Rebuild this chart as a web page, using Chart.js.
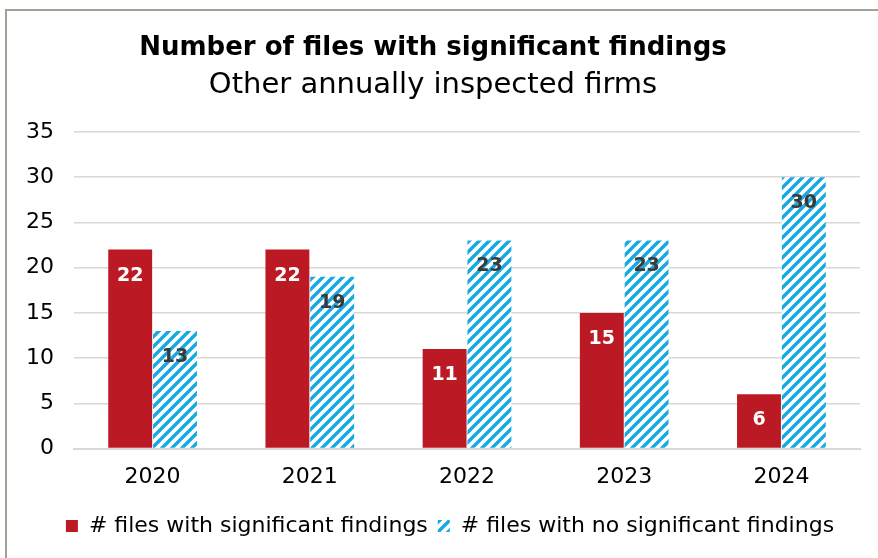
<!DOCTYPE html>
<html>
<head>
<meta charset="utf-8">
<script src="https://cdn.jsdelivr.net/npm/chart.js@4"></script>
<style>
  html, body { margin: 0; padding: 0; background: #fff; }
  #frame { position: absolute; left: 5px; top: 9px; width: 900px; height: 600px;
           border-left: 2px solid #a79e96; border-top: 2px solid #a79e96; }
  #wrap { position: absolute; left: 0; top: 0; width: 878px; height: 558px; }
</style>
</head>
<body>
<div id="frame"></div>
<div id="wrap"><canvas id="FindingsChart"></canvas></div>
<script>
const years = ["2020", "2021", "2022", "2023", "2024"];
const withFindings = [22, 22, 11, 15, 6];
const withoutFindings = [13, 19, 23, 23, 30];
const seriesNames = ["# files with significant findings", "# files with no significant findings"];

const FONT = "'DejaVu Sans', sans-serif";

function makeHatch() {
    let c = document.createElement('canvas');
    c.width = 10; c.height = 10;
    let g = c.getContext('2d');
    g.fillStyle = '#ffffff';
    g.fillRect(0, 0, 10, 10);
    g.strokeStyle = '#17a9e1';
    g.lineWidth = 3.4;
    g.beginPath();
    g.moveTo(-1, 11); g.lineTo(11, -1);
    g.moveTo(-1, 1); g.lineTo(1, -1);
    g.moveTo(9, 11); g.lineTo(11, 9);
    g.stroke();
    return g.createPattern(c, 'repeat');
}

// bar values drawn inside the top of each bar
const valueLabels = {
    id: 'valueLabels',
    afterDatasetsDraw(chart) {
        let ctx = chart.ctx;
        ctx.save();
        ctx.font = "bold 19px " + FONT;
        ctx.textAlign = 'center';
        ctx.textBaseline = 'middle';
        chart.data.datasets.forEach((ds, i) => {
            let meta = chart.getDatasetMeta(i);
            ctx.fillStyle = i === 0 ? '#ffffff' : '#3a3a3a';
            meta.data.forEach((bar, j) => {
                ctx.fillText(String(ds.data[j]), bar.x, bar.y + 26);
            });
        });
        ctx.restore();
    }
};

// legend sits a little right of centre in the original
const legendNudge = {
    id: 'legendNudge',
    afterLayout(chart) {
        chart.legend.left += 17;
        chart.legend.right += 17;
    }
};

let ctx = document.getElementById('FindingsChart').getContext('2d');

new Chart(ctx, {
    type: 'bar',
    data: {
        labels: years,
        datasets: [
            {
                label: seriesNames[0],
                data: withFindings,
                backgroundColor: '#bb1a25',
                barPercentage: 0.98,
                categoryPercentage: 0.57
            },
            {
                label: seriesNames[1],
                data: withoutFindings,
                backgroundColor: makeHatch(),
                barPercentage: 0.98,
                categoryPercentage: 0.57
            }
        ]
    },
    plugins: [valueLabels, legendNudge],
    options: {
        responsive: true,
        maintainAspectRatio: false,
        animation: false,
        layout: { padding: { left: 6, right: 18, top: 10, bottom: 11 } },
        plugins: {
            title: {
                display: true,
                text: "Number of files with significant findings",
                color: '#000',
                font: { family: FONT, size: 26, weight: 'bold' },
                padding: { top: 23, bottom: 2 }
            },
            subtitle: {
                display: true,
                text: "Other annually inspected firms",
                color: '#000',
                font: { family: FONT, size: 29, weight: 'normal' },
                padding: { top: 2, bottom: 29 }
            },
            legend: {
                position: 'bottom',
                labels: {
                    color: '#000',
                    font: { family: FONT, size: 22 },
                    boxWidth: 12,
                    boxHeight: 12,
                    padding: 10
                }
            },
            tooltip: { enabled: false }
        },
        scales: {
            x: {
                grid: { display: false, drawTicks: false },
                border: { color: '#d9d9d9', width: 2 },
                ticks: { color: '#000', font: { family: FONT, size: 22 }, padding: 15 }
            },
            y: {
                min: 0,
                max: 35,
                grid: { color: '#dcd7d2', lineWidth: 1.5, drawTicks: false },
                border: { display: false },
                ticks: { stepSize: 5, color: '#000', font: { family: FONT, size: 22 }, padding: 20 }
            }
        }
    }
});
</script>
</body>
</html>
